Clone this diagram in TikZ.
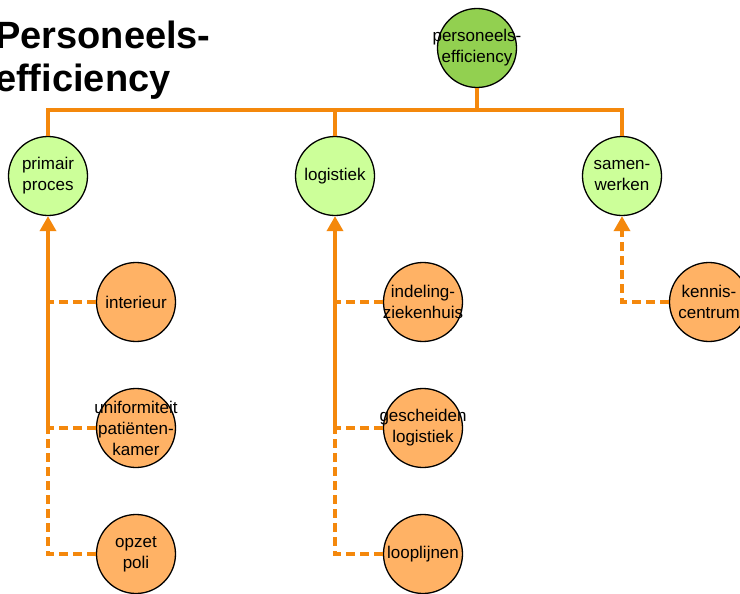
\documentclass[tikz,border=0pt]{standalone}
\usepackage{fontspec}
\setmainfont{Liberation Sans}
\usetikzlibrary{arrows.meta}
\definecolor{linkorange}{HTML}{F4880C}
\definecolor{rootgreen}{HTML}{92D050}
\definecolor{mid}{HTML}{CCFF99}
\definecolor{leaf}{HTML}{FFB265}
\tikzset{
  ball/.style={circle, draw=black, line width=1.3pt, minimum size=79pt, inner sep=0pt},
  rootball/.style={ball, fill=rootgreen},
  midball/.style={ball, fill=mid},
  leafball/.style={ball, fill=leaf},
  txt/.style={align=center, font=\fontsize{17}{21}\selectfont, text=black},
  bus/.style={draw=linkorange, line width=3.5pt},
  trunk/.style={draw=linkorange, line width=3.5pt, -{Triangle[width=16pt,length=15pt]}},
  twig/.style={draw=linkorange, line width=3.5pt, dash pattern=on 9pt off 5pt},
  twigarrow/.style={twig, -{Triangle[width=16pt,length=15pt]}},
}
\begin{document}
\begin{tikzpicture}[x=1pt, y=-1pt]
\useasboundingbox (0,0) rectangle (740,594);

% title
\node[anchor=north west, align=left, inner sep=0pt,
      font=\fontsize{38}{43}\selectfont\bfseries] (title) at (-5,21)
  {Personeels-\\efficiency};

% root and second level
\node[rootball, label={[txt]center:personeels-\\efficiency}] (root) at (477,48) {};
\node[midball, label={[txt]center:primair\\proces}] (prim) at (48,176) {};
\node[midball, label={[txt]center:logistiek}] (logi) at (335,176) {};
\node[midball, label={[txt]center:samen-\\werken}] (samen) at (622,176) {};

% leaves
\node[leafball, label={[txt]center:interieur}] (inter) at (136,302) {};
\node[leafball, label={[txt]center:uniformiteit\\patiënten-\\kamer}] (unif) at (136,428) {};
\node[leafball, label={[txt]center:opzet\\poli}] (opzet) at (136,554) {};
\node[leafball, label={[txt]center:indeling-\\ziekenhuis}] (indel) at (423,302) {};
\node[leafball, label={[txt]center:gescheiden\\logistiek}] (gesch) at (423,428) {};
\node[leafball, label={[txt]center:looplijnen}] (loop) at (423,554) {};
\node[leafball, label={[txt]center:kennis-\\centrum}] (kennis) at (709,302) {};

% bus under the root
\coordinate (busline) at (0,110);
\draw[bus] (root.south) -- (root.south |- busline);
\draw[bus, line join=miter] (prim.north) -- (prim.north |- busline)
  -- (samen.north |- busline) -- (samen.north);
\draw[bus] (logi.north) -- (logi.north |- busline);

% left column
\draw[twig] (inter.west) -- (inter.west -| prim.south);
\draw[twig] (unif.west) -- (unif.west -| prim.south);
\draw[twig] (opzet.west) -| (unif.west -| prim.south);
\draw[trunk] (unif.west -| prim.south) -- (prim.south);

% middle column
\draw[twig] (indel.west) -- (indel.west -| logi.south);
\draw[twig] (gesch.west) -- (gesch.west -| logi.south);
\draw[twig] (loop.west) -| (gesch.west -| logi.south);
\draw[trunk] (gesch.west -| logi.south) -- (logi.south);

% right column
\draw[twigarrow] (kennis.west) -| (samen.south);

\end{tikzpicture}
\end{document}
